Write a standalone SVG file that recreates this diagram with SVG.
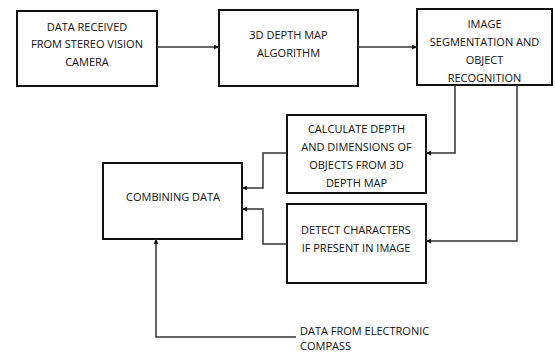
<svg xmlns="http://www.w3.org/2000/svg" width="555" height="353" viewBox="0 0 555 353">
<style>
.box{fill:#fff;stroke:#111;stroke-width:2}
.t{font-family:"Open Sans","Liberation Sans",sans-serif;font-size:11px;fill:#111;text-anchor:middle}
.tl{font-family:"Open Sans","Liberation Sans",sans-serif;font-size:11px;fill:#111}
.c{fill:none;stroke:#333;stroke-width:1.5;marker-end:url(#ah)}
</style>
<defs>
<marker id="ah" viewBox="0 0 10 10" refX="10" refY="5" markerWidth="5" markerHeight="5" markerUnits="userSpaceOnUse" orient="auto">
<path d="M0,0 L10,5 L0,10 z" fill="#111"/>
</marker>
</defs>
<rect width="555" height="353" fill="#fff"/>
<g id="n1">
<rect class="box" x="17" y="11" width="140" height="75"/>
<text class="t" x="87" y="31">DATA RECEIVED</text>
<text class="t" x="87" y="48">FROM STEREO VISION</text>
<text class="t" x="87" y="66">CAMERA</text>
</g>
<g id="n2">
<rect class="box" x="219" y="10" width="139" height="76"/>
<text class="t" x="288.5" y="39">3D DEPTH MAP</text>
<text class="t" x="288.5" y="57">ALGORITHM</text>
</g>
<g id="n3">
<rect class="box" x="417" y="9" width="135" height="76"/>
<text class="t" x="484.5" y="28">IMAGE</text>
<text class="t" x="484.5" y="46">SEGMENTATION AND</text>
<text class="t" x="484.5" y="64">OBJECT</text>
<text class="t" x="484.5" y="82">RECOGNITION</text>
</g>
<g id="n4">
<rect class="box" x="287" y="115" width="139" height="78"/>
<text class="t" x="356.5" y="133">CALCULATE DEPTH</text>
<text class="t" x="356.5" y="151">AND DIMENSIONS OF</text>
<text class="t" x="356.5" y="169">OBJECTS FROM 3D</text>
<text class="t" x="356.5" y="187">DEPTH MAP</text>
</g>
<g id="n5">
<rect class="box" x="287" y="204" width="139" height="79"/>
<text class="t" x="356" y="234">DETECT CHARACTERS</text>
<text class="t" x="356" y="252">IF PRESENT IN IMAGE</text>
</g>
<g id="n6">
<rect class="box" x="103" y="163" width="139" height="76"/>
<text class="t" x="173" y="201">COMBINING DATA</text>
</g>
<g id="n7">
<text class="tl" x="300" y="335">DATA FROM ELECTRONIC</text>
<text class="tl" x="300" y="350">COMPASS</text>
</g>
<g id="connectors">
<path class="c" d="M157,47 H219"/>
<path class="c" d="M358,47 H417"/>
<path class="c" d="M455,85 V153 H426"/>
<path class="c" d="M517,85 V241 H426"/>
<path class="c" d="M287,153 H263 V188 H242"/>
<path class="c" d="M287,244 H263 V209 H242"/>
<path class="c" d="M296,337 H156 V239"/>
</g>
</svg>
